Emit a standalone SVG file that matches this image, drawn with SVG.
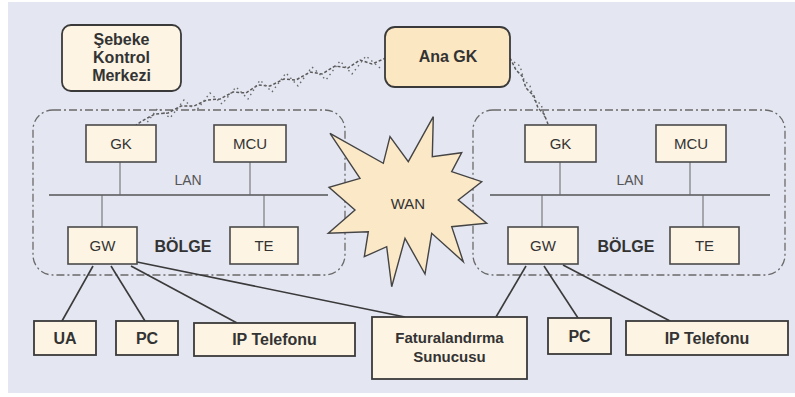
<svg xmlns="http://www.w3.org/2000/svg" width="795" height="397" viewBox="0 0 795 397">
<style>
  .box { fill: #FDF4E3; stroke: #4a4a4a; stroke-width: 1.6; }
  .rbox { fill: #FDF4E3; stroke: #3a3a3a; stroke-width: 1.8; }
  .region { fill: none; stroke: #6a6a6a; stroke-width: 1.3; stroke-dasharray: 8 3 2 3; }
  .lan { stroke: #555; stroke-width: 1.6; fill: none; }
  .drop { stroke: #666; stroke-width: 1; fill: none; }
  .link { stroke: #3a3a3a; stroke-width: 1.6; fill: none; }
  .wave { stroke: #5a5a5a; stroke-width: 1.5; fill: none; stroke-dasharray: 3 2; }
  .wave2 { stroke: #6a6a6a; stroke-width: 1.4; fill: none; stroke-dasharray: 1.5 3.5; }
  .t { font-family: "Liberation Sans", Arial, sans-serif; fill: #333; text-anchor: middle; }
  .n { font-size: 15px; }
  .b { font-size: 16px; font-weight: bold; }
  .lbl { font-size: 14px; fill: #555; }
</style>
<rect x="0" y="0" width="795" height="397" fill="#ffffff"/>
<rect x="8" y="2" width="787" height="391" fill="#E4E6F2"/>

<g id="connectors">
  <rect class="region" x="33" y="110" width="312" height="165" rx="20"/>
  <rect class="region" x="473" y="110" width="312" height="165" rx="20"/>
  <line class="lan" x1="49" y1="195" x2="328" y2="195"/>
  <line class="lan" x1="490" y1="195" x2="770" y2="195"/>
  <line class="drop" x1="120" y1="162" x2="120" y2="195"/>
  <line class="drop" x1="250" y1="162" x2="250" y2="195"/>
  <line class="drop" x1="102" y1="195" x2="102" y2="227"/>
  <line class="drop" x1="264" y1="195" x2="264" y2="227"/>
  <line class="drop" x1="560" y1="162" x2="560" y2="195"/>
  <line class="drop" x1="690" y1="162" x2="690" y2="195"/>
  <line class="drop" x1="542" y1="195" x2="542" y2="227"/>
  <line class="drop" x1="703" y1="195" x2="703" y2="227"/>
  <line class="link" x1="93" y1="266" x2="62" y2="321"/>
  <line class="link" x1="111" y1="266" x2="145" y2="321"/>
  <line class="link" x1="131" y1="266" x2="237" y2="323"/>
  <line class="link" x1="137" y1="262" x2="405" y2="317"/>
  <line class="link" x1="526" y1="266" x2="496" y2="317"/>
  <line class="link" x1="544" y1="266" x2="578" y2="318"/>
  <line class="link" x1="563" y1="265" x2="670" y2="321"/>
  <path class="wave" d="M386,58 L372,64 L360,60 L348,68 L335,66 L322,74 L310,72 L296,80 L284,79 L270,86 L258,85 L246,93 L233,92 L220,99 L207,100 L194,106 L181,106 L168,113 L155,114 L142,121 L136,125"/>
  <path class="wave2" d="M380,68 L366,56 L352,74 L340,61 L326,80 L312,67 L298,86 L286,73 L272,92 L260,80 L248,99 L236,87 L222,104 L210,93 L196,111 L184,100 L170,118 L158,108 L146,124"/>
  <path class="wave" d="M510,58 L516,70 L522,76 L526,88 L534,96 L538,108 L544,114 L548,124"/>
  <path class="wave2" d="M514,62 L520,66 L524,80 L530,86 L534,100 L541,104 L545,118"/>
</g>

<g id="wan">
  <path d="M433.3,116.7 L432.3,156.7 L461.7,152.7 L451.7,171.7 L481.7,181.7 L458.3,200 L486.7,223.3 L451.7,226.7 L463.3,261.7 L431.7,233.3 L425,274 L405,238.3 L391.7,286.7 L386.7,246.7 L364.3,256.7 L368.3,231.7 L328.3,233.3 L355,210 L329,187.3 L360,178.3 L330,133.3 L383.3,163.3 L390,136.7 L408.3,161.7 Z" fill="#FBE8C6" stroke="#444" stroke-width="1.4"/>
  <text class="t n" x="408" y="209">WAN</text>
</g>

<g id="sebeke">
  <rect class="rbox" x="62" y="25" width="119" height="66" rx="9"/>
  <text class="t b" x="121.5" y="45">Şebeke</text>
  <text class="t b" x="121.5" y="63">Kontrol</text>
  <text class="t b" x="121.5" y="81">Merkezi</text>
</g>

<g id="anagk">
  <rect x="385" y="27" width="125" height="60" rx="10" fill="#FBE7C2" stroke="#3a3a3a" stroke-width="1.8"/>
  <text class="t b" x="448" y="62">Ana GK</text>
</g>

<g id="gk-left"><rect class="box" x="86" y="125" width="70" height="37"/><text class="t n" x="121" y="149">GK</text></g>
<g id="mcu-left"><rect class="box" x="214" y="125" width="72" height="37"/><text class="t n" x="250" y="149">MCU</text></g>
<g id="lan-left"><text class="t lbl" x="188" y="185">LAN</text></g>
<g id="gw-left"><rect class="box" x="68" y="227" width="69" height="37"/><text class="t n" x="102.5" y="251">GW</text></g>
<g id="bolge-left"><text class="t b" x="183" y="252">BÖLGE</text></g>
<g id="te-left"><rect class="box" x="230" y="227" width="68" height="37"/><text class="t n" x="264" y="251">TE</text></g>

<g id="gk-right"><rect class="box" x="525" y="125" width="71" height="37"/><text class="t n" x="560.5" y="149">GK</text></g>
<g id="mcu-right"><rect class="box" x="656" y="125" width="70" height="37"/><text class="t n" x="691" y="149">MCU</text></g>
<g id="lan-right"><text class="t lbl" x="630" y="185">LAN</text></g>
<g id="gw-right"><rect class="box" x="508" y="227" width="70" height="37"/><text class="t n" x="543" y="251">GW</text></g>
<g id="bolge-right"><text class="t b" x="626" y="252">BÖLGE</text></g>
<g id="te-right"><rect class="box" x="670" y="227" width="69" height="37"/><text class="t n" x="704.5" y="251">TE</text></g>

<g id="ua"><rect class="rbox" x="34" y="321" width="62" height="34"/><text class="t b" x="65" y="344">UA</text></g>
<g id="pc-left"><rect class="rbox" x="116" y="321" width="62" height="34"/><text class="t b" x="147" y="344">PC</text></g>
<g id="ip-left"><rect class="rbox" x="194" y="323" width="161" height="33"/><text class="t b" x="274.5" y="345">IP Telefonu</text></g>
<g id="fatura"><rect class="rbox" x="372" y="317" width="155" height="62"/>
  <text class="t" style="font-size:15px;font-weight:bold" x="449.5" y="343">Faturalandırma</text>
  <text class="t" style="font-size:15px;font-weight:bold" x="449.5" y="362">Sunucusu</text></g>
<g id="pc-right"><rect class="rbox" x="548" y="318" width="63" height="36"/><text class="t b" x="579.5" y="342">PC</text></g>
<g id="ip-right"><rect class="rbox" x="626" y="321" width="162" height="34"/><text class="t b" x="707" y="344">IP Telefonu</text></g>
</svg>
